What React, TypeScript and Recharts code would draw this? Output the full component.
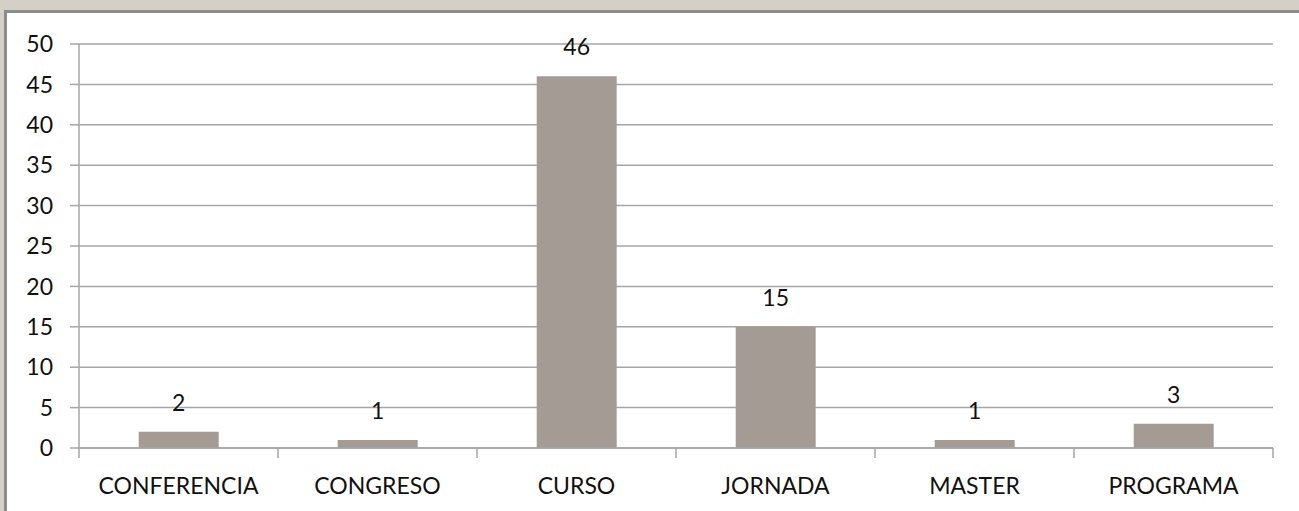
import React from 'react';
import { BarChart, Bar, XAxis, YAxis, CartesianGrid, LabelList } from 'recharts';

const categories = ['CONFERENCIA', 'CONGRESO', 'CURSO', 'JORNADA', 'MASTER', 'PROGRAMA'];
const values = [2, 1, 46, 15, 1, 3];
const yTicks = [0, 5, 10, 15, 20, 25, 30, 35, 40, 45, 50];

const data = categories.map((name, i) => ({ name, value: values[i] }));

const FONT = 'Lato, "Open Sans", sans-serif';
const GRID = '#a6a6a6';
const TICK_SIZE = 10;
const TICK_MARGIN = 19;

const XTick = (props: any) => {
  const { x, y, payload, width, visibleTicksCount, index } = props;
  const bw = width / visibleTicksCount;
  const axisY = y - TICK_SIZE - TICK_MARGIN;
  const left = x - bw / 2;
  const right = x + bw / 2;
  return (
    <g>
      <line x1={left} x2={left} y1={axisY} y2={axisY + TICK_SIZE} stroke={GRID} strokeWidth={1.5} />
      {index === visibleTicksCount - 1 && (
        <line x1={right} x2={right} y1={axisY} y2={axisY + TICK_SIZE} stroke={GRID} strokeWidth={1.5} />
      )}
      <text x={x} y={y} dy="0.72em" textAnchor="middle" fill="#111" fontSize={23} fontFamily={FONT}>
        {payload.value}
      </text>
    </g>
  );
};

export default function App() {
  return (
    <div style={{ position: 'fixed', left: 0, top: 0, width: 1299, height: 511, background: '#d4d0c8', overflow: 'hidden' }}>
      <div
        style={{
          position: 'absolute',
          left: 4,
          top: 10,
          right: 0,
          bottom: 0,
          background: '#fff',
          borderTop: '3px solid #8c8c8c',
          borderLeft: '3px solid #8c8c8c',
        }}
      />
      <div style={{ position: 'absolute', left: 0, top: 0 }}>
        <BarChart
          width={1299}
          height={511}
          data={data}
          margin={{ top: 44, right: 26, bottom: 0, left: 0 }}
          barCategoryGap="30%"
        >
          <CartesianGrid vertical={false} stroke={GRID} strokeWidth={1.5} />
          <XAxis
            dataKey="name"
            height={63}
            axisLine={{ stroke: GRID, strokeWidth: 1.5 }}
            tickLine={false}
            tickSize={TICK_SIZE}
            tickMargin={TICK_MARGIN}
            tick={<XTick />}
            interval={0}
          />
          <YAxis
            width={79}
            domain={[0, 50]}
            ticks={yTicks}
            interval={0}
            axisLine={{ stroke: GRID, strokeWidth: 1.5 }}
            tickLine={{ stroke: GRID, strokeWidth: 1.5 }}
            tickSize={9}
            tickMargin={17}
            tick={{ fill: '#111', fontSize: 23, fontFamily: FONT }}
          />
          <Bar dataKey="value" fill="#a59b95" isAnimationActive={false}>
            <LabelList dataKey="value" position="top" offset={21} fill="#111" fontSize={23} fontFamily={FONT} />
          </Bar>
        </BarChart>
      </div>
    </div>
  );
}
